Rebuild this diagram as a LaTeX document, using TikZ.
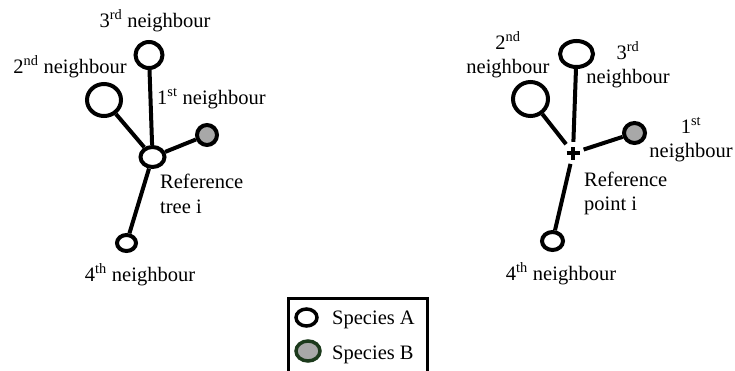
\documentclass[tikz,border=0pt]{standalone}
\usepackage{fontspec}
\setmainfont{Liberation Serif}
\usetikzlibrary{shapes.geometric}

\definecolor{treegray}{HTML}{A8A8A8}
\definecolor{legendgreen}{HTML}{1C3A1C}

\tikzset{
  tree/.style={ellipse, draw=black, line width=4pt, inner sep=0pt, fill=white},
  spB/.style={fill=treegray},
  stem/.style={line width=4pt},
  lbl/.style={font=\fontsize{20.5}{24}\selectfont, inner sep=0pt},
}

\begin{document}
\begin{tikzpicture}[x=1pt, y=-1pt]
\useasboundingbox (0,0) rectangle (735,370);

% ---- neighbourhood of a reference tree ----
\node[tree, minimum width=24pt, minimum height=20pt] (refL) at (152.5,157) {};
\node[tree, minimum width=27pt, minimum height=26pt] (n3L) at (149,55) {};
\node[tree, minimum width=34pt, minimum height=32pt] (n2L) at (104,100) {};
\node[tree, spB, minimum width=20pt, minimum height=20pt] (n1L) at (207,135) {};
\node[tree, minimum width=19pt, minimum height=16pt] (n4L) at (126.5,243) {};

\draw[stem] (n3L) -- (refL);
\draw[stem] (n2L) -- (refL);
\draw[stem] (n1L) -- (refL);
\draw[stem] (n4L) -- (refL);

\node[lbl, anchor=base] (t3L) at (155,27) {3\textsuperscript{rd} neighbour};
\node[lbl, anchor=base] (t2L) at (70,73) {2\textsuperscript{nd} neighbour};
\node[lbl, anchor=base west] (t1L) at (157,104) {1\textsuperscript{st} neighbour};
\node[lbl, anchor=base west, align=left] (tRefL) at (160,213) {Reference\\[1pt]tree i};
\node[lbl, anchor=base] (t4L) at (140,281) {4\textsuperscript{th} neighbour};

% ---- neighbourhood of a reference point ----
\node[circle, minimum size=22pt, inner sep=0pt] (refR) at (573,153) {};
\draw[line width=4pt] ([xshift=-6.5pt]refR.center) -- ([xshift=6.5pt]refR.center);
\draw[line width=4pt] ([yshift=-6.5pt]refR.center) -- ([yshift=6.5pt]refR.center);

\node[tree, minimum width=33pt, minimum height=26pt] (n3R) at (576.5,54) {};
\node[tree, minimum width=35pt, minimum height=34pt] (n2R) at (530.5,99) {};
\node[tree, spB, minimum width=21pt, minimum height=20pt] (n1R) at (634.5,133) {};
\node[tree, minimum width=21pt, minimum height=18pt] (n4R) at (552.5,241) {};

\draw[stem] (n3R) -- (refR);
\draw[stem] (n2R) -- (refR);
\draw[stem] (n1R) -- (refR);
\draw[stem] (n4R) -- (refR);

\node[lbl, anchor=base, align=center] (t2R) at (508,73) {2\textsuperscript{nd}\\neighbour};
\node[lbl, anchor=base, align=center] (t3R) at (628,83) {3\textsuperscript{rd}\\neighbour};
\node[lbl, anchor=base, align=center] (t1R) at (691,157) {1\textsuperscript{st}\\neighbour};
\node[lbl, anchor=base west, align=left] (tRefR) at (584,210) {Reference\\point i};
\node[lbl, anchor=base] (t4R) at (561,280) {4\textsuperscript{th} neighbour};

% ---- legend ----
\node[draw=black, line width=3pt, inner sep=0pt, minimum width=139pt, minimum height=90pt, anchor=north west] (legend) at (286.5,296.5) {};
\node[tree, line width=3.5pt, minimum width=21pt, minimum height=17pt] (symA) at (306.5,317.5) {};
\node[tree, draw=legendgreen, fill=treegray, line width=3.5pt, minimum width=24pt, minimum height=20pt] (symB) at (308,351) {};
\node[lbl, anchor=base west] (labA) at (332,324) {Species A};
\node[lbl, anchor=base west] (labB) at (332,359) {Species B};
\end{tikzpicture}
\end{document}
